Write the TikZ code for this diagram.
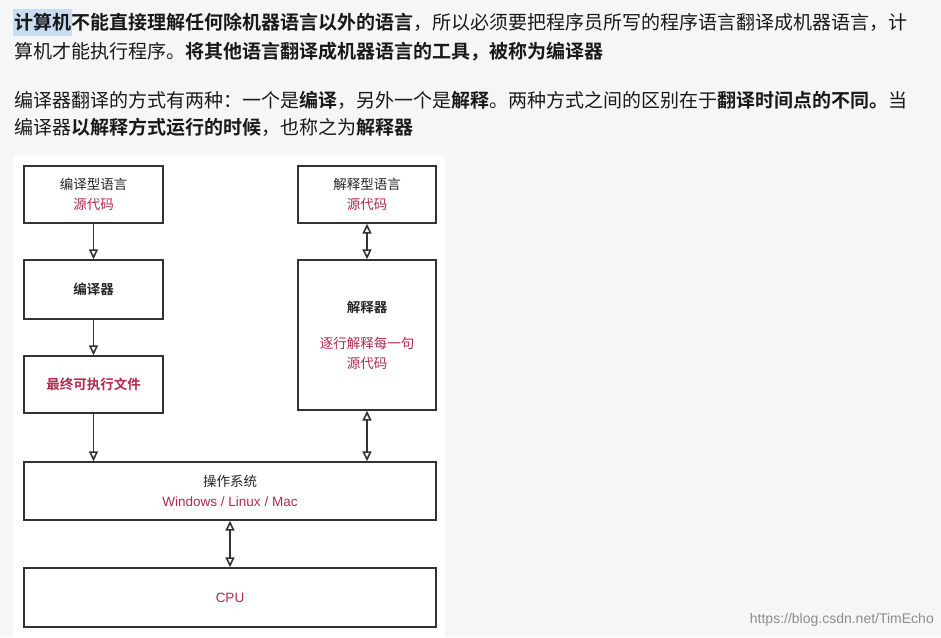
\documentclass[tikz,border=0pt]{standalone}
\usepackage{fontspec}
\newfontfamily\cjk{Noto Sans CJK SC}
\newfontfamily\cjkb{Noto Sans CJK SC Bold}
\newfontfamily\lat{Liberation Sans}
\setmainfont{Noto Sans CJK SC}
\usetikzlibrary{arrows.meta}
\definecolor{bg}{HTML}{F6F6F6}
\definecolor{red}{HTML}{B22A4E}
\definecolor{hl}{HTML}{C9DDF2}
\begin{document}
\begin{tikzpicture}[x=1pt,y=-1pt,
  box/.style={draw=black!80,line width=1.4pt,inner sep=0pt},
  lbl/.style={font=\cjk\fontsize{13.5}{18}\selectfont,align=center,text=black!85},
  line/.style={anchor=west,inner sep=0pt,font=\cjk\fontsize{19}{22}\selectfont,text=black!90},
  tri/.style={-{Triangle[open,length=10pt,width=9pt]},line width=1.6pt,draw=black!80},
  dtri/.style={{Triangle[open,length=10pt,width=9pt]}-{Triangle[open,length=10pt,width=9pt]},line width=1.6pt,draw=black!80}]
\fill[bg] (0,0) rectangle (941,637);
\useasboundingbox (0,0) rectangle (941,637);
\fill[hl] (13,9) rectangle (72,36);
\node[line] (l1) at (14,22) {{\cjkb 计算机不能直接理解任何除机器语言以外的语言}，所以必须要把程序员所写的程序语言翻译成机器语言，计};
\node[line] (l2) at (14,52) {算机才能执行程序。{\cjkb 将其他语言翻译成机器语言的工具，被称为编译器}};
\node[line] (l3) at (14,100) {编译器翻译的方式有两种：一个是{\cjkb 编译}，另外一个是{\cjkb 解释}。两种方式之间的区别在于{\cjkb 翻译时间点的不同。}当};
\node[line] (l4) at (14,127) {编译器{\cjkb 以解释方式运行的时候}，也称之为{\cjkb 解释器}};
\fill[white,rounded corners=5pt] (13,155) rectangle (445,640);
\node[box,minimum width=139pt,minimum height=57pt,lbl] (a) at (93.5,194.5) {编译型语言\\[2pt]\textcolor{red}{源代码}};
\node[box,minimum width=139pt,minimum height=59pt,lbl] (b) at (93.5,289.5) {{\cjkb 编译器}};
\node[box,minimum width=139pt,minimum height=57pt,lbl] (c) at (93.5,384.5) {\textcolor{red}{\cjkb 最终可执行文件}};
\node[box,minimum width=138pt,minimum height=57pt,lbl] (d) at (367,194.5) {解释型语言\\[2pt]\textcolor{red}{源代码}};
\node[box,minimum width=138pt,minimum height=150pt,lbl] (e) at (367,335) {{\cjkb 解释器}\\[18pt]\textcolor{red}{逐行解释每一句}\\[2pt]\textcolor{red}{源代码}};
\node[box,minimum width=412pt,minimum height=58pt,lbl] (f) at (230,491) {操作系统\\[2pt]\textcolor{red}{\lat Windows / Linux / Mac}};
\node[box,minimum width=412pt,minimum height=59pt,lbl] (g) at (230,597.5) {\textcolor{red}{\lat CPU}};
\draw[tri] (a) -- (b);
\draw[tri] (b) -- (c);
\draw[tri] (c) -- (c|-f.north);
\draw[dtri] (d) -- (e);
\draw[dtri] (e) -- (e|-f.north);
\draw[dtri] (f) -- (g);
\node[anchor=east,inner sep=0pt,font=\lat\fontsize{14}{16}\selectfont,text=black!45] (w) at (934,620) {https://blog.csdn.net/TimEcho};
\end{tikzpicture}
\end{document}
